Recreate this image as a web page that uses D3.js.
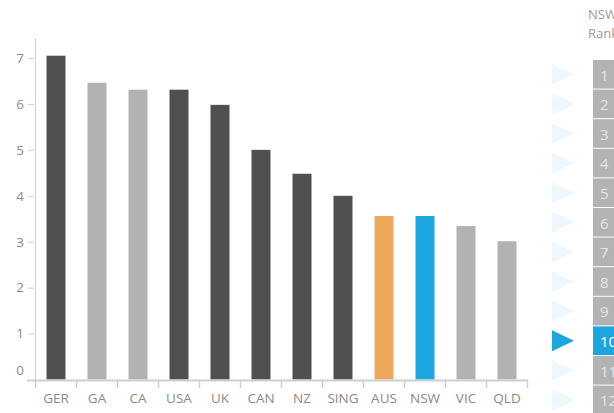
<!DOCTYPE html>
<html>
<head>
<meta charset="utf-8">
<script src="https://cdn.jsdelivr.net/npm/d3@7"></script>
<style>
  html, body { margin: 0; padding: 0; background: #fff; }
  svg { display: block; }
  text { font-family: "Open Sans", sans-serif; }
</style>
</head>
<body>
<svg id="chart" width="614" height="413"></svg>
<script>
// ---- data ----
const categories = ["GER", "GA", "CA", "USA", "UK", "CAN", "NZ", "SING", "AUS", "NSW", "VIC", "QLD"];
const values = [7.05, 6.46, 6.31, 6.31, 5.98, 5.0, 4.48, 4.0, 3.56, 3.56, 3.34, 3.01];
const groups = ["country", "state", "state", "country", "country", "country", "country", "country", "national", "focus", "state", "state"];
const yTicks = [0, 1, 2, 3, 4, 5, 6, 7];
const ranks = [1, 2, 3, 4, 5, 6, 7, 8, 9, 10, 11, 12];
const selectedRank = 10;
const panelTitle = ["NSW", "Ranking"];

// ---- drawing ----
const svg = d3.select("#chart");

const color = d3.scaleOrdinal()
  .domain(["country", "state", "national", "focus"])
  .range(["#505050", "#b2b2b2", "#eda95b", "#1ca6e0"]);

const x = d3.scaleBand()
  .domain(categories)
  .range([35, 527])
  .paddingInner(0.537)
  .paddingOuter(0.537 / 2);

const y = d3.scaleLinear().domain([0, 7]).range([379.5, 58]);

const axisColor = "#cfcfcf";
const labelColor = "#8a8a8a";

// y axis
const yAxis = d3.axisLeft(y).tickValues(yTicks.filter(d => d > 0)).tickFormat(d3.format("d")).tickSize(7).tickPadding(4);
const gy = svg.append("g").attr("transform", "translate(35,0)").call(yAxis);
gy.select(".domain").remove();
gy.selectAll(".tick line").attr("stroke", axisColor).attr("x2", -7).attr("x1", -1);
gy.selectAll(".tick text").attr("fill", labelColor).style("font-size", "13.5px").attr("x", -11);
svg.append("line").attr("x1", 35.5).attr("x2", 35.5).attr("y1", 38).attr("y2", 380)
  .attr("stroke", axisColor).attr("stroke-width", 1);
// zero label (offset above the baseline)
svg.append("text").attr("x", 24).attr("y", y(0) - 9).attr("dy", "0.32em")
  .attr("text-anchor", "end").attr("fill", labelColor).style("font-size", "13.5px")
  .text(yTicks[0]);

// bars
svg.append("g").selectAll("rect").data(categories).join("rect")
  .attr("x", d => x(d) + 0.5)
  .attr("width", x.bandwidth())
  .attr("y", (d, i) => y(values[i]))
  .attr("height", (d, i) => y(0) - y(values[i]))
  .attr("fill", (d, i) => color(groups[i]));

// x axis
svg.append("line").attr("x1", 27).attr("x2", 528).attr("y1", 380.5).attr("y2", 380.5)
  .attr("stroke", axisColor).attr("stroke-width", 2);
const step = x.step();
const start = x.range()[0];
svg.append("g").selectAll("line").data(d3.range(categories.length + 1)).join("line")
  .attr("x1", i => start + i * step + 0.5)
  .attr("x2", i => start + i * step + 0.5)
  .attr("y1", 380).attr("y2", 388)
  .attr("stroke", axisColor).attr("stroke-width", 1.5);
svg.append("g").selectAll("text").data(categories).join("text")
  .attr("x", d => x(d) + x.bandwidth() / 2 + 0.5)
  .attr("y", 398).attr("dy", "0.35em")
  .attr("text-anchor", "middle").attr("fill", labelColor).style("font-size", "13.5px")
  .text(d => d);

// rank panel
svg.append("g").selectAll("text").data(panelTitle).join("text")
  .attr("x", 588).attr("y", (d, i) => 14 + i * 19).attr("dy", "0.35em")
  .attr("fill", "#9a9a9a").style("font-size", "13px")
  .text(d => d);

const rowY = d3.scaleLinear().domain([1, 12]).range([60, 385.6]);
const rowH = 28.6;
const rows = svg.append("g").selectAll("g").data(ranks).join("g")
  .attr("transform", d => `translate(0,${rowY(d)})`);
rows.append("rect").attr("x", 593).attr("y", 0).attr("width", 30).attr("height", rowH)
  .attr("fill", d => d === selectedRank ? "#1ca6e0" : "#b3b3b3");
rows.append("text").attr("x", 600).attr("y", rowH / 2 + 1).attr("dy", "0.35em")
  .attr("fill", d => d === selectedRank ? "#ffffff" : "#e6e6e6").style("font-size", "15px")
  .text(d => d);
rows.append("path")
  .attr("d", `M552,${rowH / 2 - 10.5} L574,${rowH / 2} L552,${rowH / 2 + 10.5} Z`)
  .attr("fill", d => d === selectedRank ? "#1ca6e0" : "#eef7fd");
</script>
</body>
</html>
